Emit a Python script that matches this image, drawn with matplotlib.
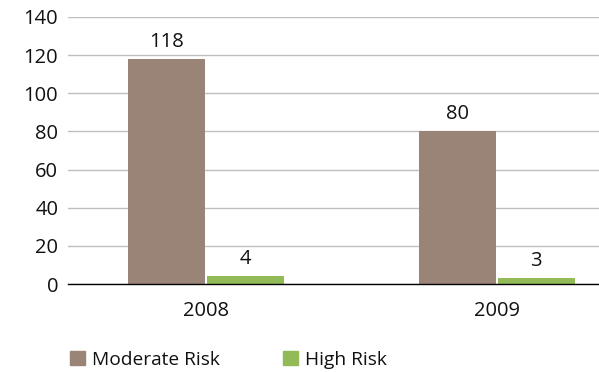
import matplotlib.pyplot as plt
import matplotlib.patches as mpatches
import numpy as np

years = ['2008', '2009']
moderate = [118, 80]
high = [4, 3]
series_names = ['Moderate Risk', 'High Risk']
colors = ['#9a8477', '#92bb57']

plt.rcParams['font.family'] = ['Open Sans', 'DejaVu Sans']

fig = plt.figure(figsize=(5.99, 3.72), dpi=100)
ax = fig.add_axes([68 / 599, 1 - 284 / 372, 1 - 68 / 599, (284 - 17) / 372])

x = np.arange(len(years))
w = 0.264
off = 0.135
b1 = ax.bar(x - off, moderate, w, color=colors[0], zorder=3)
b2 = ax.bar(x + off, high, w, color=colors[1], zorder=3)

# value labels over each bar
for bars, vals in [(b1, moderate), (b2, high)]:
    for rect, v in zip(bars, vals):
        ax.annotate(str(v), (rect.get_x() + rect.get_width() / 2, v),
                    xytext=(0, 5), textcoords='offset points',
                    ha='center', va='bottom', fontsize=14.5, color='#111111')

ax.set_ylim(0, 140)
ax.set_yticks(range(0, 141, 20))
ax.set_xlim(-0.474, 1.351)
ax.set_xticks(x)
ax.set_xticklabels(years)
ax.tick_params(axis='both', length=0, labelsize=14.5, colors='#111111')
ax.tick_params(axis='y', pad=7)
ax.tick_params(axis='x', pad=12)

ax.yaxis.grid(True, color='#bfbfbf', linewidth=1, zorder=0)
for side in ['top', 'right', 'left']:
    ax.spines[side].set_visible(False)
ax.spines['bottom'].set_color('#000000')
ax.spines['bottom'].set_linewidth(1)
ax.spines['bottom'].set_zorder(4)

handles = [mpatches.Patch(color=c, label=n) for c, n in zip(colors, series_names)]
fig.legend(handles=handles, loc='center left', bbox_to_anchor=(70 / 599, 1 - 360 / 372),
           ncol=2, frameon=False, fontsize=13.8, handlelength=0.78, handleheight=0.75,
           handletextpad=0.36, columnspacing=3.3, borderpad=0, borderaxespad=0,
           labelcolor='#111111')

fig.savefig('out.png', dpi=100)
